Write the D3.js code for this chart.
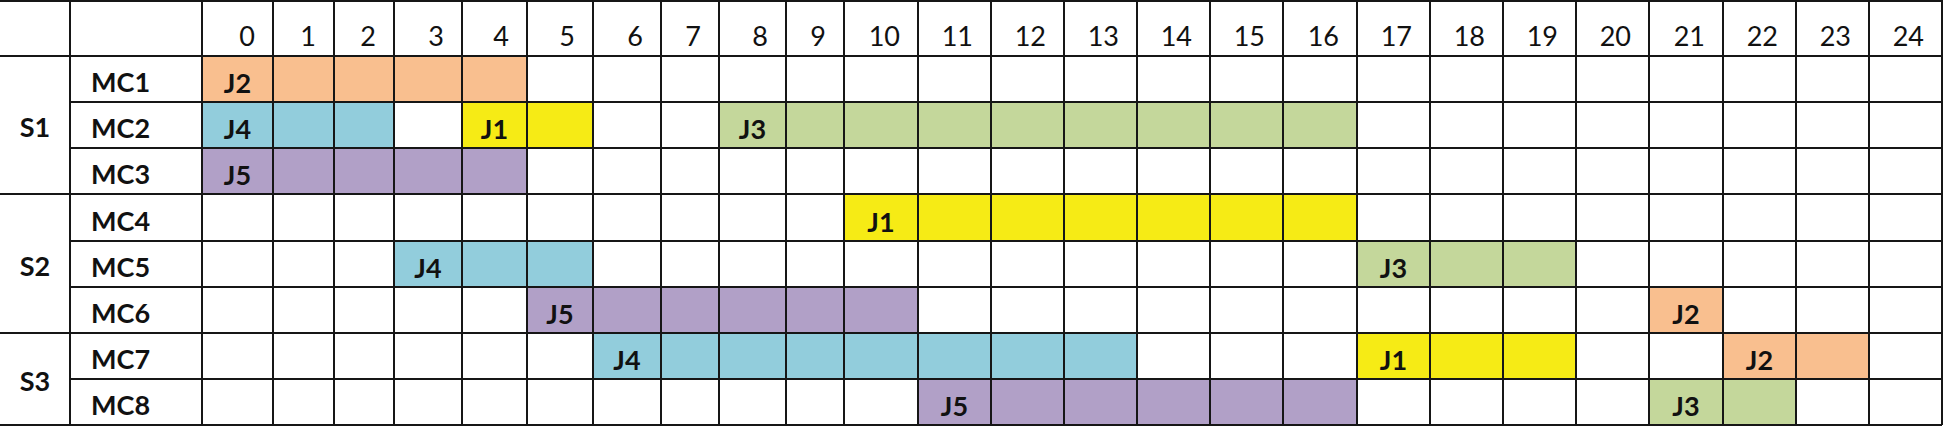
<!DOCTYPE html>
<html>
<head>
<meta charset="utf-8">
<script src="https://cdn.jsdelivr.net/npm/d3@7"></script>
<style>
  body { margin: 0; background: #fff; }
  text { font-family: Lato, "Open Sans", sans-serif; fill: #111; }
</style>
</head>
<body>
<div id="chart"></div>
<script>
// stages and the machines in each one
const stages = ["S1", "S2", "S3"];
const machines = ["MC1", "MC2", "MC3", "MC4", "MC5", "MC6", "MC7", "MC8"];
const machineStage = ["S1", "S1", "S1", "S2", "S2", "S2", "S3", "S3"];

// time periods shown in the header
const periods = [0, 1, 2, 3, 4, 5, 6, 7, 8, 9, 10, 11, 12, 13, 14, 15, 16, 17, 18, 19, 20, 21, 22, 23, 24];

// operations: machine, job, first period, number of periods
const tasks = [
    ["MC1", "J2", 0, 5],
    ["MC2", "J4", 0, 3],
    ["MC2", "J1", 4, 2],
    ["MC2", "J3", 8, 9],
    ["MC3", "J5", 0, 5],
    ["MC4", "J1", 10, 7],
    ["MC5", "J4", 3, 3],
    ["MC5", "J3", 17, 3],
    ["MC6", "J5", 5, 6],
    ["MC6", "J2", 21, 1],
    ["MC7", "J4", 6, 8],
    ["MC7", "J1", 17, 3],
    ["MC7", "J2", 22, 2],
    ["MC8", "J5", 11, 6],
    ["MC8", "J3", 21, 2]
];

const jobColors = { J1: "#f6eb15", J2: "#f9bf8f", J3: "#c4d79b", J4: "#92cddc", J5: "#b1a0c7" };

// spreadsheet layout: column widths of the period cells (they are not all equal)
const colWidths = [71, 61, 60, 68, 65, 66, 68, 58, 67, 58, 74, 73, 73, 73, 73, 73, 74, 73, 73, 73, 73, 74, 73, 73, 73];

const width = 1943, height = 426;
const stageCol = 70, machineCol = 202, headerH = 56, bottom = 425;
const lineColor = "#161616";

const svg = d3.select("#chart").append("svg")
    .attr("width", width)
    .attr("height", height);

// piecewise scale so every period lands on its own column edge
const edges = [machineCol];
colWidths.forEach(w => edges.push(edges[edges.length - 1] + w));
const xScale = d3.scaleLinear()
    .domain(d3.range(periods.length + 1))
    .range(edges);

const yScale = d3.scaleBand()
    .domain(machines)
    .range([headerH, bottom])
    .padding(0);

// task cells
svg.append("g")
    .selectAll("rect")
    .data(tasks)
    .enter().append("rect")
    .attr("x", d => xScale(d[2]))
    .attr("y", d => yScale(d[0]))
    .attr("width", d => xScale(d[2] + d[3]) - xScale(d[2]))
    .attr("height", yScale.bandwidth())
    .attr("fill", d => jobColors[d[1]]);

// job labels in the first cell of each task
svg.append("g")
    .selectAll("text")
    .data(tasks)
    .enter().append("text")
    .attr("x", d => (xScale(d[2]) + xScale(d[2] + 1)) / 2)
    .attr("y", d => yScale(d[0]) + yScale.bandwidth() - 9)
    .attr("text-anchor", "middle")
    .attr("font-size", 27)
    .attr("font-weight", "bold")
    .text(d => d[1]);

// header period numbers, right aligned like a spreadsheet
svg.append("g")
    .selectAll("text")
    .data(periods)
    .enter().append("text")
    .attr("x", d => xScale(d + 1) - 18)
    .attr("y", headerH - 10)
    .attr("text-anchor", "end")
    .attr("font-size", 27)
    .text(d => d);

// machine names
svg.append("g")
    .selectAll("text")
    .data(machines)
    .enter().append("text")
    .attr("x", stageCol + 21)
    .attr("y", d => yScale(d) + yScale.bandwidth() - 10)
    .attr("font-size", 27)
    .attr("font-weight", "bold")
    .text(d => d);

// stage names, centred on their merged cell
svg.append("g")
    .selectAll("text")
    .data(stages)
    .enter().append("text")
    .attr("x", stageCol / 2)
    .attr("y", s => {
        const rows = machines.filter((m, i) => machineStage[i] === s);
        const top = yScale(rows[0]);
        const bot = yScale(rows[rows.length - 1]) + yScale.bandwidth();
        return (top + bot) / 2 + 12;
    })
    .attr("text-anchor", "middle")
    .attr("font-size", 27)
    .attr("font-weight", "bold")
    .text(d => d);

// grid lines
const grid = svg.append("g")
    .attr("stroke", lineColor)
    .attr("stroke-width", 2);

grid.append("line").attr("x1", 0).attr("x2", xScale(periods.length)).attr("y1", 1).attr("y2", 1);
grid.append("line").attr("x1", 0).attr("x2", xScale(periods.length)).attr("y1", headerH).attr("y2", headerH);
grid.append("line").attr("x1", 0).attr("x2", xScale(periods.length)).attr("y1", bottom).attr("y2", bottom);

// row lines; a new stage also crosses the stage column
machines.slice(1).forEach((m, i) => {
    const newStage = machineStage[i + 1] !== machineStage[i];
    grid.append("line")
        .attr("x1", newStage ? 0 : stageCol)
        .attr("x2", xScale(periods.length))
        .attr("y1", Math.round(yScale(m)))
        .attr("y2", Math.round(yScale(m)));
});

grid.append("line").attr("x1", stageCol).attr("x2", stageCol).attr("y1", 0).attr("y2", bottom);
grid.selectAll(".vline")
    .data(d3.range(periods.length + 1))
    .enter().append("line")
    .attr("class", "vline")
    .attr("x1", d => xScale(d))
    .attr("x2", d => xScale(d))
    .attr("y1", 0)
    .attr("y2", bottom);
</script>
</body>
</html>
